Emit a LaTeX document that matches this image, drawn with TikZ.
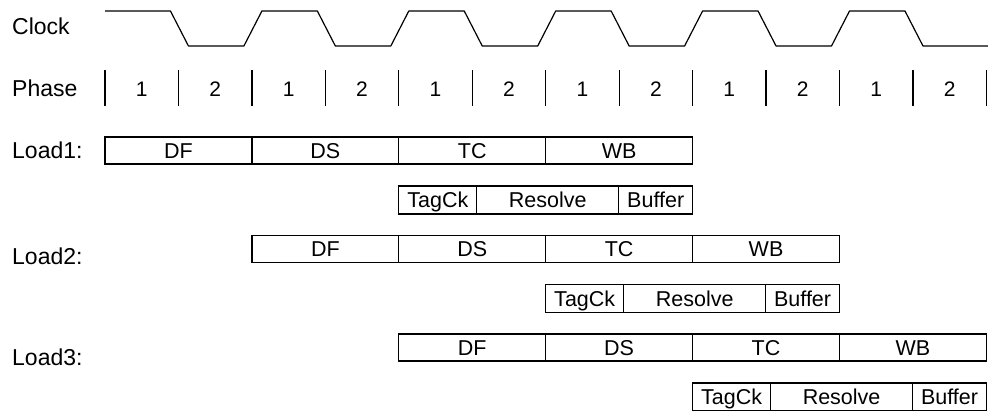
\documentclass[tikz,border=0pt]{standalone}
\usepackage{fontspec}
\setmainfont{Liberation Sans}
\usetikzlibrary{positioning}

\tikzset{
  rowlabel/.style={anchor=base west, inner sep=0pt, font=\fontsize{23}{27}\selectfont},
  digit/.style={anchor=base, inner sep=0pt, font=\fontsize{21}{25}\selectfont},
  stage/.style={draw, line width=1.2pt, minimum width=146.9pt, minimum height=27pt,
    inner sep=0pt, outer sep=0pt, text height=15pt, text depth=0pt,
    font=\fontsize{21.5}{25}\selectfont},
  subbox/.style={stage, minimum height=28pt},
  wave/.style={line width=1.2pt, line join=round},
  tick/.style={line width=1.2pt}
}

\begin{document}
\begin{tikzpicture}[x=1pt, y=-1pt]
    \useasboundingbox (0,0) rectangle (988,410);

    % row labels
    \node[rowlabel] (clock) at (12,34) {Clock};
    \node[rowlabel] (phase) at (12,96) {Phase};
    \node[rowlabel] (load1) at (12,158) {Load1:};
    \node[rowlabel] (load2) at (12,264) {Load2:};
    \node[rowlabel] (load3) at (12,365) {Load3:};

    % clock waveform
    \draw[wave] (105,11) \foreach \c in {0,...,4} {
        -- ({105+(2*\c+1)*73.45-8},11) -- ({105+(2*\c+1)*73.45+10},46)
        -- ({105+(2*\c+2)*73.45-8},46) -- ({105+(2*\c+2)*73.45+10},11)}
        -- (905,11) -- (923,46) -- (988,46);

    % phases
    \foreach \k in {0,...,12}
        \draw[tick] ({105+\k*73.45},70) -- ({105+\k*73.45},106);
    \foreach \k in {0,...,11} {
        \pgfmathsetmacro\ph{int(mod(\k,2)+1)}
        \node[digit] (ph\k) at ({105+(\k+0.5)*73.45},96) {\ph};
    }

    % pipeline stages of the loads
    \foreach \i/\s/\top in {1/0/137, 2/2/235.5, 3/4/334} {
        \node[stage, anchor=north west] (df\i) at ({105+\s*73.45},\top) {DF};
        \node[stage, right=0pt of df\i] (ds\i) {DS};
        \node[stage, right=0pt of ds\i] (tc\i) {TC};
        \node[stage, right=0pt of tc\i] (wb\i) {WB};
        \node[subbox, minimum width=78pt, anchor=north west] (tag\i) at ([yshift=-49pt]tc\i.north west) {TagCk};
        \node[subbox, minimum width=142pt, right=0pt of tag\i] (res\i) {Resolve};
        \node[subbox, minimum width=73.8pt, right=0pt of res\i] (buf\i) {Buffer};
    }
\end{tikzpicture}
\end{document}
